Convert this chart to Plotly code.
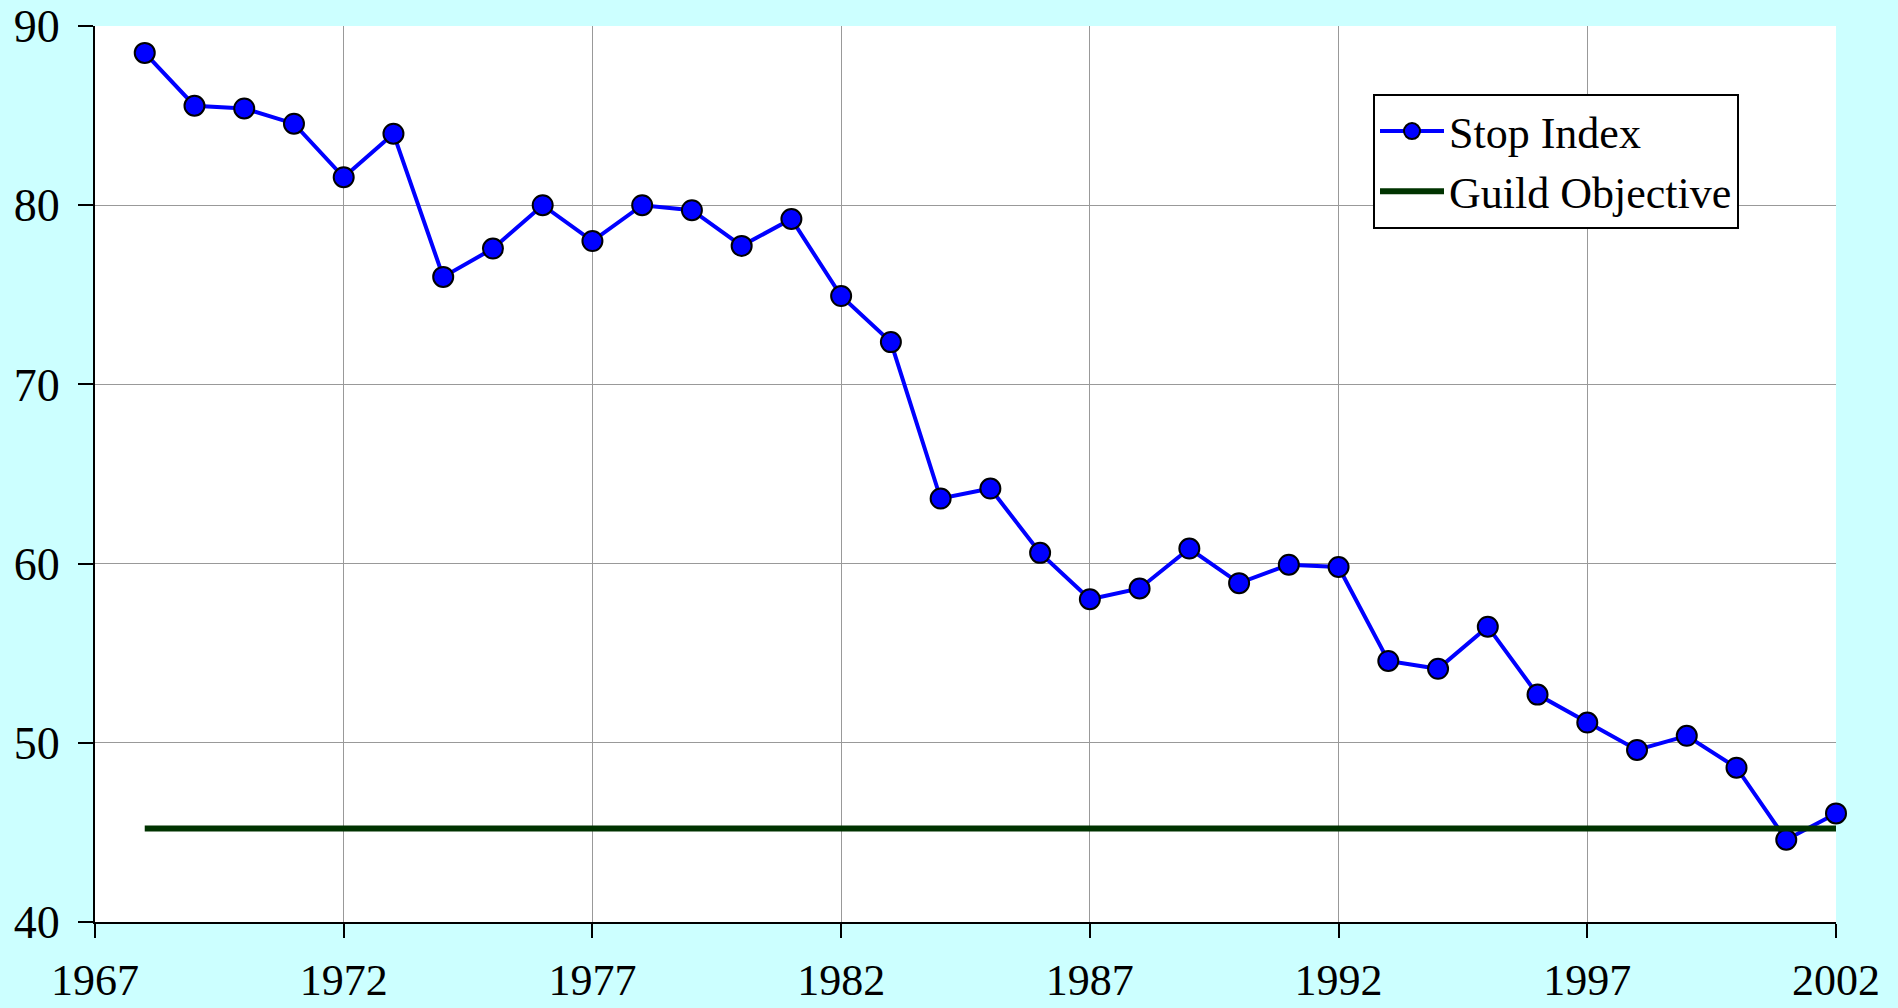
import plotly.graph_objects as go

years = list(range(1968, 2003))
stop_index = [88.5, 85.55, 85.4, 84.55, 81.56, 83.99, 76.0, 77.58, 80.0, 78.0,
              80.0, 79.72, 77.73, 79.23, 74.93, 72.36, 63.63, 64.19, 60.6, 58.01,
              58.61, 60.84, 58.91, 59.94, 59.81, 54.57, 54.13, 56.48, 52.69, 51.13,
              49.6, 50.39, 48.61, 44.59, 46.06]
guild_years = [1968, 2002]
guild_values = [45.22, 45.22]

x_ticks = [1967, 1972, 1977, 1982, 1987, 1992, 1997, 2002]
x_tick_labels = ["1967", "1972", "1977", "1982", "1987", "1992", "1997", "2002"]
y_ticks = [40, 50, 60, 70, 80, 90]
y_tick_labels = ["40", "50", "60", "70", "80", "90"]

FONT = "Liberation Serif, Times New Roman, serif"

fig = go.Figure()
fig.add_trace(go.Scatter(
    x=years, y=stop_index, name="Stop Index", mode="lines+markers",
    line=dict(color="#0000FF", width=4),
    marker=dict(color="#0000FF", size=20, line=dict(color="#000000", width=2)),
    cliponaxis=False,
))
fig.add_trace(go.Scatter(
    x=guild_years, y=guild_values, name="Guild Objective", mode="lines",
    line=dict(color="#003300", width=6),
))

fig.update_layout(
    width=1898, height=1008,
    paper_bgcolor="#CCFFFF", plot_bgcolor="#FFFFFF",
    margin=dict(l=95, r=62, t=26, b=86),
    font=dict(family=FONT, size=46, color="#000000"),
    showlegend=True,
    legend=dict(
        x=(1373 - 95) / 1741, y=(922 - 94) / 896, xanchor="left", yanchor="top",
        bgcolor="#FFFFFF", bordercolor="#000000", borderwidth=2,
        font=dict(family=FONT, size=44, color="#000000"),
        itemwidth=64, tracegroupgap=0,
    ),
)
fig.update_xaxes(
    range=[1967, 2002], tickvals=x_ticks, ticktext=x_tick_labels,
    showgrid=True, gridcolor="#999999", gridwidth=1.3,
    showline=True, linecolor="#000000", linewidth=2,
    ticks="outside", ticklen=14, tickwidth=2, tickcolor="#000000",
    ticklabelstandoff=4, zeroline=False, automargin=False,
    tickfont=dict(family=FONT, size=44),
)
fig.update_yaxes(
    range=[40, 90], tickvals=y_ticks, ticktext=y_tick_labels,
    showgrid=True, gridcolor="#999999", gridwidth=1.3,
    showline=True, linecolor="#000000", linewidth=2,
    ticks="outside", ticklen=15, tickwidth=2, tickcolor="#000000",
    ticklabelstandoff=9, zeroline=False, automargin=False,
    tickfont=dict(family=FONT, size=46),
)

fig.write_html(
    "out.html",
    config={"displayModeBar": False},
    post_script="document.body.style.margin='0';document.body.style.background='#CCFFFF';",
)
